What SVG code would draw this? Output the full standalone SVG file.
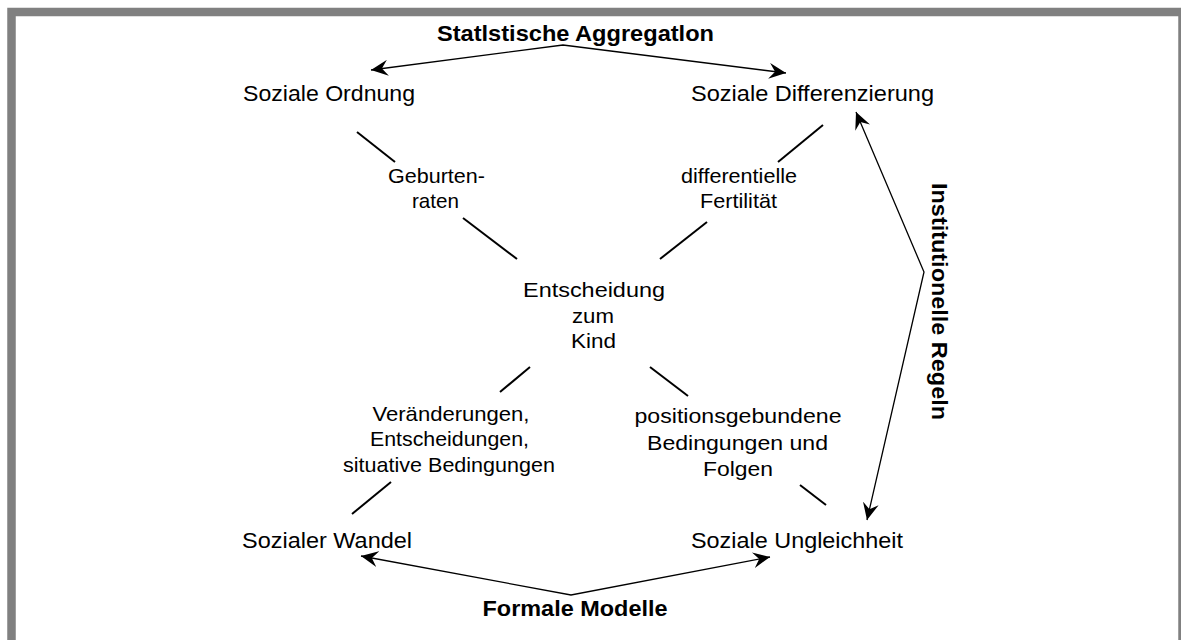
<svg xmlns="http://www.w3.org/2000/svg" width="1181" height="640" viewBox="0 0 1181 640">
<style>
  text { font-family: "Liberation Sans", Arial, sans-serif; fill: #000; text-anchor: middle; }
  .n { font-size: 22.5px; }
  .l { font-size: 21px; }
  .b { font-size: 22.5px; font-weight: bold; }
  .seg { stroke: #000; stroke-width: 2; fill: none; }
  .arr { stroke: #000; stroke-width: 1.3; fill: none; marker-start: url(#ah); marker-end: url(#ah); }
</style>
<defs>
  <marker id="ah" viewBox="0 0 17 16" refX="17" refY="8" markerWidth="17" markerHeight="16" markerUnits="userSpaceOnUse" orient="auto-start-reverse">
    <path d="M17,8 L0,0 L6,8 L0,16 Z" fill="#000"/>
  </marker>
</defs>
<rect x="0" y="0" width="1181" height="640" fill="#fff"/>
<rect id="frame" x="11.5" y="12" width="1171" height="700" fill="#fff" stroke="#808080" stroke-width="8.5"/>

<g id="connectors">
  <polyline class="arr" points="371,70 563,45 786,73"/>
  <polyline class="arr" points="856,112 924,272 867,520"/>
  <polyline class="arr" points="361,556 571,595 770,557"/>
  <line class="seg" x1="357" y1="132" x2="395" y2="162"/>
  <line class="seg" x1="463" y1="218" x2="517" y2="259"/>
  <line class="seg" x1="823" y1="125" x2="778" y2="162"/>
  <line class="seg" x1="707" y1="222" x2="660" y2="259"/>
  <line class="seg" x1="530" y1="367" x2="500" y2="392"/>
  <line class="seg" x1="650" y1="367" x2="688" y2="396"/>
  <line class="seg" x1="391" y1="482" x2="352" y2="514"/>
  <line class="seg" x1="800" y1="485" x2="826" y2="505"/>
</g>

<g id="label-statistische-aggregation">
  <text class="b" x="575.5" y="41" textLength="277" lengthAdjust="spacingAndGlyphs">Statlstische Aggregatlon</text>
</g>
<g id="node-soziale-ordnung">
  <text class="n" x="329" y="101" textLength="172" lengthAdjust="spacingAndGlyphs">Soziale Ordnung</text>
</g>
<g id="node-soziale-differenzierung">
  <text class="n" x="812.5" y="101" textLength="243" lengthAdjust="spacingAndGlyphs">Soziale Differenzierung</text>
</g>
<g id="label-geburtenraten">
  <text class="l" x="436.5" y="183" textLength="97" lengthAdjust="spacingAndGlyphs">Geburten-</text>
  <text class="l" x="435.5" y="208" textLength="47" lengthAdjust="spacingAndGlyphs">raten</text>
</g>
<g id="label-differentielle-fertilitaet">
  <text class="l" x="739" y="183" textLength="116" lengthAdjust="spacingAndGlyphs">differentielle</text>
  <text class="l" x="738.5" y="208" textLength="77" lengthAdjust="spacingAndGlyphs">Fertilität</text>
</g>
<g id="node-entscheidung">
  <text class="l" x="594" y="297" textLength="142" lengthAdjust="spacingAndGlyphs">Entscheidung</text>
  <text class="l" x="593" y="322.5" textLength="42" lengthAdjust="spacingAndGlyphs">zum</text>
  <text class="l" x="593.5" y="348" textLength="45" lengthAdjust="spacingAndGlyphs">Kind</text>
</g>
<g id="label-veraenderungen">
  <text class="l" x="451" y="421" textLength="157" lengthAdjust="spacingAndGlyphs">Veränderungen,</text>
  <text class="l" x="449.5" y="446" textLength="159" lengthAdjust="spacingAndGlyphs">Entscheidungen,</text>
  <text class="l" x="449" y="471.5" textLength="212" lengthAdjust="spacingAndGlyphs">situative Bedingungen</text>
</g>
<g id="label-positionsgebundene">
  <text class="l" x="738" y="423" textLength="207" lengthAdjust="spacingAndGlyphs">positionsgebundene</text>
  <text class="l" x="737.5" y="449.5" textLength="181" lengthAdjust="spacingAndGlyphs">Bedingungen und</text>
  <text class="l" x="738" y="476" textLength="70" lengthAdjust="spacingAndGlyphs">Folgen</text>
</g>
<g id="node-sozialer-wandel">
  <text class="n" x="327" y="548" textLength="170" lengthAdjust="spacingAndGlyphs">Sozialer Wandel</text>
</g>
<g id="node-soziale-ungleichheit">
  <text class="n" x="797" y="548" textLength="212" lengthAdjust="spacingAndGlyphs">Soziale Ungleichheit</text>
</g>
<g id="label-formale-modelle">
  <text class="b" x="575" y="616" textLength="185" lengthAdjust="spacingAndGlyphs">Formale Modelle</text>
</g>
<g id="label-institutionelle-regeln">
  <text class="b" transform="translate(932,301.5) rotate(90)" x="0" y="0" textLength="237" lengthAdjust="spacingAndGlyphs">Institutionelle Regeln</text>
</g>
</svg>
